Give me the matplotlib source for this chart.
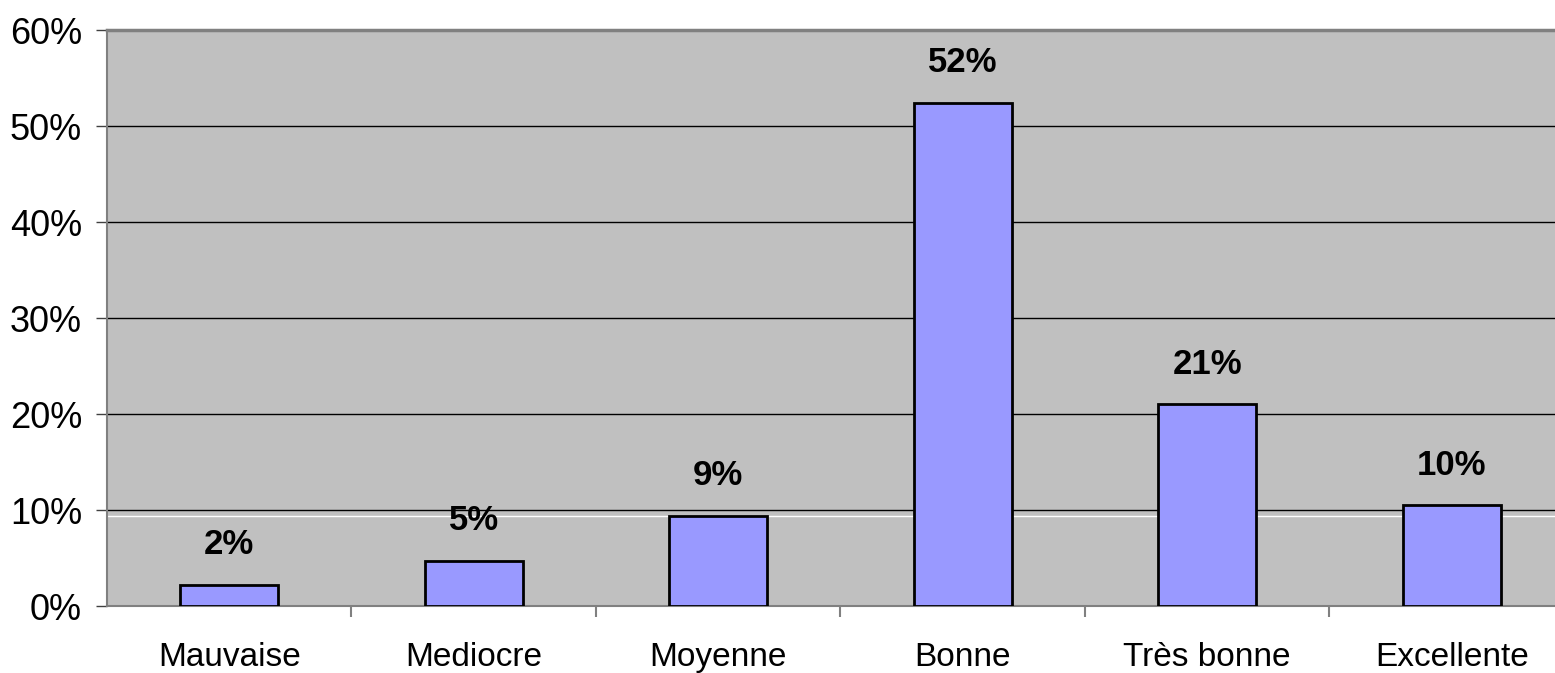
import matplotlib
matplotlib.use("Agg")
import matplotlib.pyplot as plt
from matplotlib.ticker import FuncFormatter

categories = ["Mauvaise", "Mediocre", "Moyenne", "Bonne", "Très bonne", "Excellente"]
values = [2.2, 4.7, 9.4, 52.4, 21.0, 10.5]
labels = ["2%", "5%", "9%", "52%", "21%", "10%"]
yticks = [0, 10, 20, 30, 40, 50, 60]

plt.rcParams['font.family'] = ['Liberation Sans', 'DejaVu Sans']

W, H = 1555, 673
fig = plt.figure(figsize=(W / 100, H / 100), dpi=100)
ax = fig.add_axes([107 / W, (H - 606) / H, 1467 / W, 576 / H])
ax.set_facecolor("#C0C0C0")

x = list(range(len(categories)))
ax.bar(x, values, width=0.4, color="#9999FF", edgecolor="black", linewidth=2, zorder=3)

for xi, v, lab in zip(x, values, labels):
    ax.annotate(lab, (xi, v), xytext=(0, 17), textcoords="offset points",
                ha="center", va="bottom", fontsize=25, fontweight="bold", zorder=4)

ax.set_xlim(-0.5, len(categories) - 0.5)
ax.set_ylim(0, 60)
ax.set_yticks(yticks)
ax.yaxis.set_major_formatter(FuncFormatter(lambda v, p: f"{int(v)}%"))
ax.tick_params(axis="y", labelsize=26, length=8, width=1, color="#404040", pad=10)
for yv in yticks[1:-1]:
    ax.axhline(yv, color="black", linewidth=1, zorder=1)
ax.axhline(9.4, color="white", linewidth=1, zorder=1)

ax.set_xticks([i + 0.5 for i in range(len(categories) - 1)], minor=False)
ax.set_xticklabels([])
ax.set_xticks(x, minor=True)
ax.set_xticklabels(categories, minor=True)
ax.tick_params(axis="x", which="major", length=8, width=1.5, color="#808080")
ax.tick_params(axis="x", which="minor", length=0, labelsize=24, pad=26)

for side in ["left", "bottom"]:
    ax.spines[side].set_color("#808080")
    ax.spines[side].set_linewidth(1.5)
ax.spines["top"].set_color("#808080")
ax.spines["top"].set_linewidth(2.5)
ax.spines["right"].set_visible(False)

fig.savefig("out.png", dpi=100)
